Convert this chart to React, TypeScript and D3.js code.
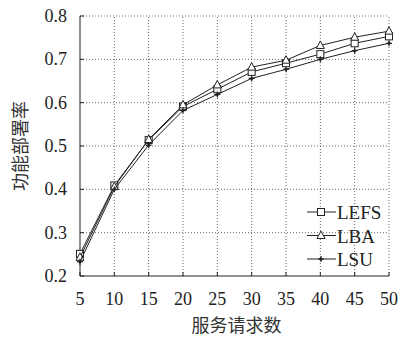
import React from 'react';
import * as d3 from 'd3';

const xTicks = [5, 10, 15, 20, 25, 30, 35, 40, 45, 50];
const yTicks = [0.2, 0.3, 0.4, 0.5, 0.6, 0.7, 0.8];
const seriesNames = ['LEFS', 'LBA', 'LSU'];
const lefs = [0.251, 0.409, 0.514, 0.591, 0.631, 0.671, 0.691, 0.712, 0.737, 0.753];
const lba = [0.243, 0.406, 0.515, 0.595, 0.641, 0.682, 0.698, 0.732, 0.751, 0.765];
const lsu = [0.233, 0.400, 0.502, 0.582, 0.619, 0.656, 0.677, 0.700, 0.720, 0.737];

const W = 403;
const H = 338;
const m = { left: 80, right: 14, top: 16, bottom: 62 };
const font = "'Liberation Serif', 'DejaVu Serif', serif";
const cjk = "'Noto Sans CJK SC', sans-serif";
const ink = '#222';

type Marker = 'square' | 'triangle' | 'star';

const MarkerShape = ({ type, x, y }: { type: Marker; x: number; y: number }) => {
  if (type === 'square') {
    return <rect x={x - 3.5} y={y - 3.5} width={7} height={7} fill="#fff" stroke={ink} strokeWidth={1} />;
  }
  if (type === 'triangle') {
    return <path d={`M${x},${y - 4.5}L${x + 4},${y + 3}L${x - 4},${y + 3}Z`} fill="#fff" stroke={ink} strokeWidth={1} />;
  }
  return (
    <g stroke={ink} strokeWidth={1.2}>
      <line x1={x - 3} x2={x + 3} y1={y} y2={y} />
      <line x1={x} x2={x} y1={y - 3} y2={y + 3} />
      <circle cx={x} cy={y} r={1.5} fill={ink} stroke="none" />
    </g>
  );
};

export default function App() {
  const x = d3.scaleLinear().domain([5, 50]).range([m.left, W - m.right]);
  const y = d3.scaleLinear().domain([0.2, 0.8]).range([H - m.bottom, m.top]);
  const line = d3.line<number>().x((_, i) => x(xTicks[i])).y(d => y(d));

  const series: { name: string; values: number[]; marker: Marker }[] = [
    { name: seriesNames[0], values: lefs, marker: 'square' },
    { name: seriesNames[1], values: lba, marker: 'triangle' },
    { name: seriesNames[2], values: lsu, marker: 'star' },
  ];

  const x0 = x(5), x1 = x(50), y0 = y(0.2), y1 = y(0.8);

  return (
    <svg width={W} height={H} style={{ position: 'absolute', left: 0, top: 0, background: '#fff' }}>
      {/* grid */}
      <g stroke="#444" strokeWidth={0.8} strokeDasharray="1,2">
        {xTicks.slice(1).map(t => (
          <line key={'gx' + t} x1={x(t)} x2={x(t)} y1={y0} y2={y1} />
        ))}
        {yTicks.slice(1).map(t => (
          <line key={'gy' + t} x1={x0} x2={x1} y1={y(t)} y2={y(t)} />
        ))}
      </g>
      {/* axes */}
      <g stroke={ink} strokeWidth={1}>
        <line x1={x0} x2={x0} y1={y0} y2={y1} />
        <line x1={x0} x2={x1} y1={y0} y2={y0} />
        {xTicks.map(t => (
          <line key={'tx' + t} x1={x(t)} x2={x(t)} y1={y0} y2={y0 - 4} />
        ))}
        {yTicks.map(t => (
          <line key={'ty' + t} x1={x0} x2={x0 + 4} y1={y(t)} y2={y(t)} />
        ))}
      </g>
      {/* tick labels */}
      <g fontFamily={font} fontSize={18} fill={ink}>
        {xTicks.map(t => (
          <text key={'lx' + t} x={x(t)} y={y0 + 29} textAnchor="middle">{t}</text>
        ))}
        {yTicks.map(t => (
          <text key={'ly' + t} x={x0 - 13} y={y(t) + 6} textAnchor="end">{t.toFixed(1)}</text>
        ))}
      </g>
      {/* series */}
      {series.map(s => (
        <g key={s.name}>
          <path d={line(s.values) || ''} fill="none" stroke={ink} strokeWidth={1} />
          {s.values.map((v, i) => (
            <MarkerShape key={i} type={s.marker} x={x(xTicks[i])} y={y(v)} />
          ))}
        </g>
      ))}
      {/* legend */}
      {series.map((s, i) => {
        const ly = 212 + i * 23.5;
        return (
          <g key={'lg' + s.name}>
            <line x1={307} x2={336} y1={ly} y2={ly} stroke={ink} strokeWidth={1} />
            <MarkerShape type={s.marker} x={321} y={ly} />
            <text x={337} y={ly + 7} fontFamily={font} fontSize={19} fill={ink}>{s.name}</text>
          </g>
        );
      })}
      {/* axis titles */}
      <text x={(x0 + x1) / 2 + 2} y={332} textAnchor="middle" fontFamily={cjk} fontSize={18} fill="#333">服务请求数</text>
      <text transform={`translate(27,${(y0 + y1) / 2}) rotate(-90)`} textAnchor="middle" fontFamily={cjk} fontSize={18} fill="#333">功能部署率</text>
    </svg>
  );
}
